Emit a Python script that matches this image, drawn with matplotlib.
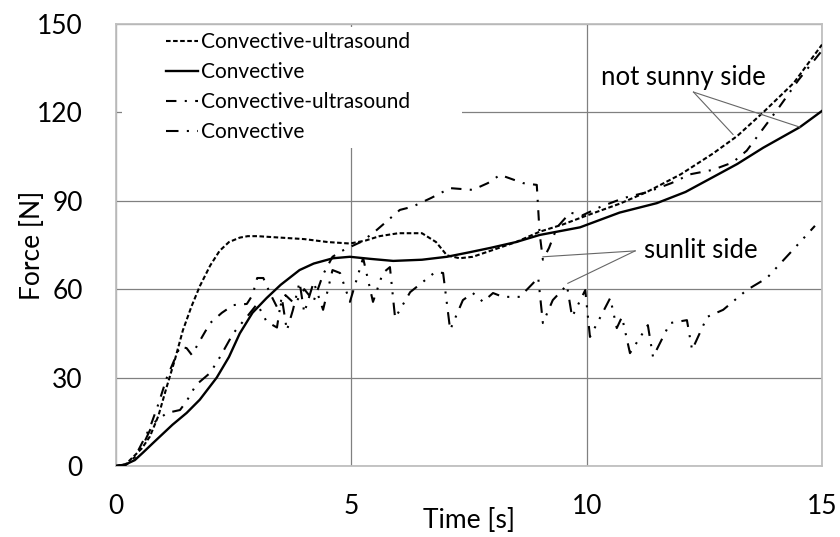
import matplotlib
matplotlib.use("Agg")
import matplotlib.pyplot as plt
from matplotlib.patches import Rectangle

plt.rcParams['font.family'] = ['Lato', 'DejaVu Sans']

# ---- data ----
t_cu_ns = [0, 0.2, 0.36, 0.55, 0.72, 0.9, 1.08, 1.25, 1.42, 1.6, 1.78, 2.0, 2.2, 2.4, 2.63, 2.8, 3.0,
           3.5, 4.0, 4.5, 4.97, 5.3, 5.6, 6.0, 6.5, 6.8, 7.03, 7.3, 7.58, 7.95, 8.5, 9.0, 9.5, 10.0,
           10.7, 11.28, 12.0, 12.68, 13.2, 13.75, 14.4, 15]
f_cu_ns = [0, 0.5, 3, 6, 10, 17, 27, 36, 46, 54, 61, 68, 73, 76, 77.5, 78, 78,
           77.5, 77, 76, 75.5, 76.5, 78, 79, 79, 76, 71.5, 70.5, 71, 73, 76, 79.5, 82, 85,
           89, 93, 99, 106, 112, 120, 130, 143]

t_c_ns = [0, 0.2, 0.4, 0.57, 0.8, 1.0, 1.2, 1.5, 1.78, 2.14, 2.4, 2.63, 2.9, 3.2, 3.5, 3.9, 4.2,
          4.61, 4.97, 5.4, 5.89, 6.5, 7.03, 7.5, 7.95, 8.5, 9.0, 9.86, 10.7, 11.49, 12.1, 12.68,
          13.2, 13.75, 14.53, 15]
f_c_ns = [0, 0.5, 2, 4.5, 8, 11, 14, 18, 22.5, 30, 37, 45, 52, 57, 61.5, 66.5, 68.7,
          70.5, 71, 70.3, 69.6, 70, 71, 72.5, 74, 76, 78.4, 81, 86, 89.2, 93, 98,
          102.5, 108, 115, 120.5]

t_cu_s = [0, 0.2, 0.4, 0.72, 0.9, 1.08, 1.36, 1.5, 1.61, 1.8, 2.0, 2.25, 2.49, 2.78, 2.9, 3.0,
          3.13, 3.27, 3.45, 3.6, 3.8, 4.0, 4.2, 4.4, 4.6, 4.8, 4.97, 5.2, 5.46, 5.75, 6.03, 6.3,
          6.7, 7.1, 7.58, 7.9, 8.16, 8.65, 8.94, 9.0, 9.07, 9.2, 9.37, 9.65, 9.9, 10.3, 10.8,
          11.3, 11.8, 12.2, 12.68, 13.1, 13.4, 14.1, 14.5, 15]
f_cu_s = [0, 0.5, 3, 13, 21, 30, 40.5, 40, 37.7, 43, 48.5, 52, 54.6, 55, 58, 63.8,
          63.8, 58.7, 53, 58, 55, 60, 56, 65, 71, 73, 74.3, 76, 79, 83, 86.9, 88,
          91, 94.3, 93.7, 96, 98.8, 96, 95.4, 79, 70, 74, 81, 86, 85, 88, 91,
          93, 96, 99, 100.5, 103, 107, 122, 131, 141]

t_c_s = [0, 0.2, 0.36, 0.6, 0.79, 1.08, 1.36, 1.5, 1.7, 2.0, 2.21, 2.49, 2.78, 3.0, 3.2, 3.42,
         3.52, 3.63, 3.76, 3.9, 4.0, 4.2, 4.4, 4.6, 4.76, 4.97, 5.25, 5.46, 5.67, 5.82, 5.93,
         6.25, 6.78, 6.95, 7.1, 7.37, 7.58, 7.8, 8.01, 8.22, 8.58, 8.86, 8.97, 9.07, 9.28,
         9.58, 9.69, 9.97, 10.07, 10.28, 10.5, 10.64, 10.75, 10.92, 11.3, 11.41, 11.77,
         12.13, 12.24, 12.56, 12.9, 13.4, 13.83, 14.38, 14.85]
f_c_s = [0, 0.3, 2, 8, 14.5, 18, 19, 22, 27.5, 31.6, 37, 45, 50.6, 55, 49, 47,
         57.4, 46, 53, 62.4, 52, 62.4, 53, 66.5, 65.5, 55.7, 70.6, 55.7, 65.5, 67.5, 50.2,
         59, 65.8, 65.5, 46.2, 56.3, 58.7, 55.7, 58.7, 57.4, 57.4, 62, 64, 48.5, 56.3,
         61.4, 50.6, 59.7, 43.8, 50.2, 57, 46.8, 50.6, 38.3, 47.8, 37, 48.5,
         49.5, 39.4, 50.6, 53, 59.7, 63.8, 73.3, 81.5]

labels = ["Convective-ultrasound", "Convective", "Convective-ultrasound", "Convective"]
x_ticks = [0, 5, 10, 15]
y_ticks = [0, 30, 60, 90, 120, 150]

# ---- figure ----
fig = plt.figure(figsize=(8.4, 5.37), dpi=100)
ax = fig.add_axes([116/840, 1-466/537, 706/840, 442/537])

ax.set_xlim(0, 15)
ax.set_ylim(0, 150)
ax.set_xticks(x_ticks)
ax.set_yticks(y_ticks)
ax.set_xticklabels([str(v) for v in x_ticks])
ax.set_yticklabels([str(v) for v in y_ticks])
ax.tick_params(length=0, labelsize=19, colors='black')
ax.tick_params(axis='x', pad=20)
ax.tick_params(axis='y', pad=24)

ax.set_axisbelow(True)
ax.grid(True, color='#808080', lw=0.9)
for s in ax.spines.values():
    s.set_color('#bfbfbf')
    s.set_linewidth(1.3)

# white legend background covering grid
ax.add_patch(Rectangle((0.0085, 0.7195), 0.49-0.0085, 0.993-0.7195, transform=ax.transAxes,
                       facecolor='white', edgecolor='none', zorder=1))

l1, = ax.plot(t_cu_ns, f_cu_ns, color='black', lw=1.5, ls=(0, (2.2, 1.2)), zorder=3)
l2, = ax.plot(t_c_ns, f_c_ns, color='black', lw=1.7, ls='-', zorder=3)
l3, = ax.plot(t_cu_s, f_cu_s, color='black', lw=1.5, ls=(0, (5, 4, 1, 4)), zorder=3)
l4, = ax.plot(t_c_s, f_c_s, color='black', lw=1.5, ls=(0, (6, 4, 1, 4, 1, 4)), zorder=3)

leg = ax.legend([l1, l2, l3, l4], labels, loc='upper left',
                bbox_to_anchor=(166/840, 1-32/537), bbox_transform=fig.transFigure,
                frameon=False, fontsize=15, handlelength=1.55, handletextpad=0.12,
                borderpad=0, borderaxespad=0, labelspacing=0.48)

ax.set_xlabel("Time [s]", fontsize=19, va='center')
ax.xaxis.set_label_coords(0.5, (466-521)/442)
ax.set_ylabel("Force [N]", fontsize=19, va='center')
ax.yaxis.set_label_coords((33-116)/706, 0.5)

# annotations
ann_kw = dict(color='#666666', lw=0.8, zorder=4)
ax.plot([12.27, 13.11], [126.9, 112.5], **ann_kw)
ax.plot([12.27, 14.53], [126.9, 115.0], **ann_kw)
ax.text(10.3, 132, "not sunny side", fontsize=18.5, va='center', ha='left')
ax.plot([11.03, 9.07], [73.0, 71.0], **ann_kw)
ax.plot([11.03, 9.6], [73.0, 62.0], **ann_kw)
ax.text(11.22, 73.3, "sunlit side", fontsize=18.5, va='center', ha='left')

fig.savefig("out.png", dpi=100)
